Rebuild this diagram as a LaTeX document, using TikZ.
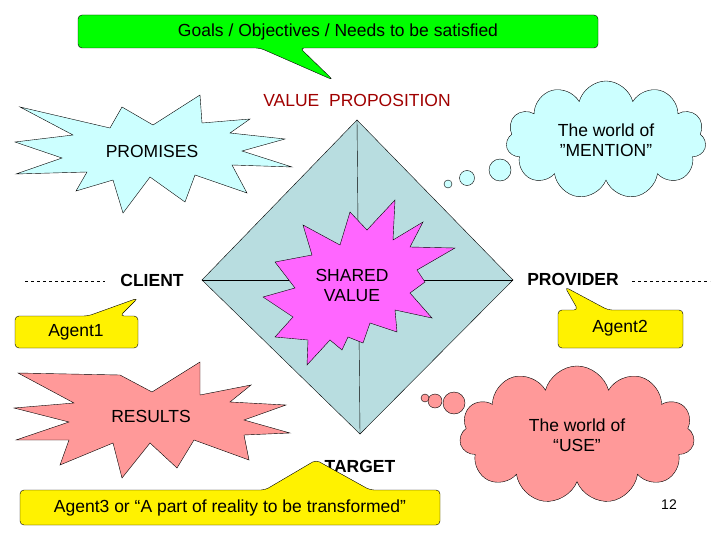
\documentclass[tikz,border=0pt]{standalone}
\usepackage{fontspec}
\setmainfont{Liberation Sans}
\usetikzlibrary{shapes.symbols}
\definecolor{dia}{HTML}{B8DDE0}
\definecolor{lcyan}{HTML}{CCFFFF}
\definecolor{salmon}{HTML}{FF9999}
\definecolor{mag}{HTML}{FF66FF}
\definecolor{vred}{HTML}{A00000}
\begin{document}
\begin{tikzpicture}[x=1pt,y=-1pt,
  lbl/.style={font=\fontsize{17.5}{20}\selectfont},
  blbl/.style={font=\fontsize{17.5}{20}\selectfont\bfseries},
  callout/.style={draw=black,fill=yellow,rounded corners=4pt},
  shp/.style={draw=black,line join=miter}]
\useasboundingbox (0,0) rectangle (720,540);
% diamond
\coordinate (L) at (202,280); \coordinate (T) at (357,120);
\coordinate (R) at (513,280); \coordinate (B) at (360,434);
\draw[fill=dia] (L)--(T)--(R)--(B)--cycle;
\draw (L)--(R); \draw (T)--(B);
% shared value star
\draw[shp,fill=mag] (303,225)--(340,245)--(350,212)--(367,230)--(395,200)--(393,240)--(423,222)--(410,247)--(455,248)--(417,270)--(425,282)--(410,293)--(432,318)--(395,310)--(397,332)--(370,323)--(363,343)--(348,337)--(342,350)--(330,340)--(307,365)--(308,340)--(275,337)--(293,317)--(263,297)--(295,288)--(275,262)--(312,255)--cycle;
\node[lbl,align=center] (sv) at (352,285) {SHARED\\VALUE};
% promises star
\draw[shp,fill=lcyan] (20,107)--(110,128)--(122,107)--(153,125)--(200,95)--(202,123)--(250,119)--(230,133)--(285,139)--(242,151)--(292,167)--(232,165)--(247,193)--(195,175)--(185,202)--(150,177)--(123,213)--(113,180)--(76,191)--(87,172)--(16,174)--(62,158)--(15,142)--(73,135)--cycle;
\node[lbl] (prom) at (152,151) {PROMISES};
% results star
\draw[shp,fill=salmon] (18,373)--(120,375)--(152,392)--(200,362)--(200,395)--(251,385)--(230,402)--(286,405)--(244,420)--(290,433)--(244,435)--(249,460)--(194,440)--(177,468)--(150,443)--(122,478)--(113,443)--(60,465)--(69,440)--(16,440)--(69,422)--(14,408)--(74,403)--cycle;
\node[lbl] (res) at (151,416) {RESULTS};
% clouds
\node[cloud,cloud puffs=11,aspect=1.7,draw,fill=lcyan,minimum width=200pt,minimum height=118pt,lbl,align=center] (men) at (606,140) {The world of\\”MENTION”};
\draw[fill=lcyan] (500,170) circle (11); \draw[fill=lcyan] (467,178) circle (7.5); \draw[fill=lcyan] (448,184) circle (4);
\node[cloud,cloud puffs=11,aspect=1.7,draw,fill=salmon,minimum width=235pt,minimum height=138pt,lbl,align=center] (use) at (577,435) {The world of\\“USE”};
\draw[fill=salmon] (454,403) circle (11); \draw[fill=salmon] (435,401) circle (7); \draw[fill=salmon] (425,398) circle (4);
% top green callout
\draw[callout,fill=green] (78,15)--(598,15)--(598,48)--(300,48)--(333,80)--(260,48)--(78,48)--cycle;
\node[lbl] (goal) at (338,32) {Goals / Objectives / Needs to be satisfied};
\node[lbl,text=vred] (vp) at (357,100) {VALUE\ \ PROPOSITION};
% labels
\node[blbl] (cl) at (152,280) {CLIENT};
\node[blbl] (pr) at (573,279) {PROVIDER};
\node[blbl] (tg) at (360,466) {TARGET};
\coordinate (d1) at (25,281); \coordinate (d2) at (105,281);
\coordinate (d3) at (632,281); \coordinate (d4) at (710,281);
\draw[dashed] (d1)--(d2); \draw[dashed] (d3)--(d4);
% agent callouts
\draw[callout] (15,316)--(88,316)--(138,298)--(120,316)--(138,316)--(138,348)--(15,348)--cycle;
\node[lbl] (a1) at (76,332) {Agent1};
\draw[callout] (558,310)--(578,310)--(565,287)--(608,310)--(683,310)--(683,348)--(558,348)--cycle;
\node[lbl] (a2) at (620,328) {Agent2};
\draw[callout] (20,490)--(265,490)--(316,460)--(370,490)--(440,490)--(440,525)--(20,525)--cycle;
\node[lbl] (a3) at (230,508) {Agent3 or “A part of reality to be transformed”};
\node[font=\fontsize{14}{16}\selectfont] (num) at (669,505) {12};
\end{tikzpicture}
\end{document}
